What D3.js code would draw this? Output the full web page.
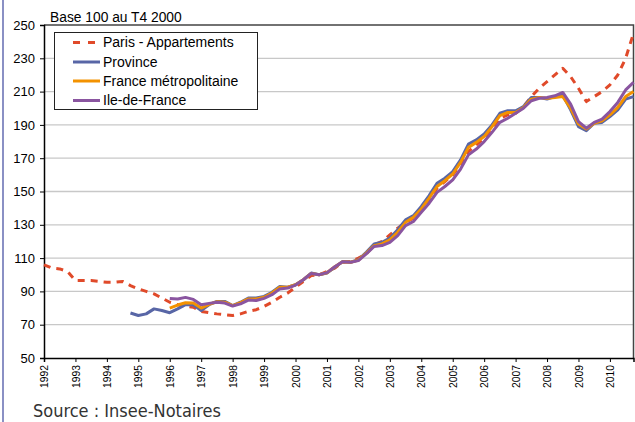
<!DOCTYPE html>
<html><head><meta charset="utf-8">
<script src="https://cdn.jsdelivr.net/npm/d3@7/dist/d3.min.js"></script>
<style>body{margin:0;background:#fff}svg{display:block}</style>
</head><body>
<svg id="c" width="635" height="422"></svg>
<script>
const yearLabels = ["1992","1993","1994","1995","1996","1997","1998","1999","2000","2001","2002","2003","2004","2005","2006","2007","2008","2009","2010"];
const yTicks = [50,70,90,110,130,150,170,190,210,230,250];
const seriesNames = ["Paris - Appartements","Province","France métropolitaine","Ile-de-France"];
const N = null;
const paris = [106,104,103.5,102,96.5,96.5,96.5,96,95.5,95.5,96,93.5,91.5,90,88.5,86,83.5,82,81,80.5,78,77.2,76.5,76,75.5,76.5,78,79,81,83.5,86.5,89,92.5,96,99.5,100,102,104,107.5,108,110,112.5,118,120,124,128,131.5,134,139,145,152,156,160,166,174,178,182,188,194,196,197,201,207,212,216,220,224,219,212,204,207,210,214,220,230,245];
const province = [N,N,N,N,N,N,N,N,N,N,N,77,75.5,76.5,79.5,78.5,77.2,79.5,82,82,78.5,82,84,84,81.5,83.5,86,86,87,89.5,93,92.5,94,97,101,100,101,104.5,108,107.5,109,113.5,118.5,119.5,122,127,133,135.5,141,147.5,155,158,162,169,178.5,181,184.5,190,197,198.5,198.5,201,206.5,206.5,205.5,207,208,199,189,186.5,191,191.5,195,199,205.5,207];
const france = [N,N,N,N,N,N,N,N,N,N,N,N,N,N,N,N,80,81.8,83.2,83,80,82.2,83.8,83.5,81.5,83.2,85.5,85.5,86.5,89,92.5,92.5,94,97,100.8,100,101.2,104.8,107.8,107.5,108.8,113,117.5,118.5,121,125.5,131.5,134.5,139.5,146,153,156.5,160.5,167.5,176.5,179.5,183,189,195.5,197.5,197.5,200.5,205.5,206.5,206,206.5,207,200,190.5,187.5,191,192.5,196,200.5,207,210];
const idf = [N,N,N,N,N,N,N,N,N,N,N,N,N,N,N,N,85.8,85.4,86.4,85.2,82,82.8,83.5,83,81.2,82.5,84.8,84.5,85.8,88,91.5,92,93.8,97,100.8,100,101.3,104.8,107.8,107.5,108.5,112.5,117,117.5,119.5,123.5,129.5,132,137.5,143,149.5,153,157,163.5,172,175.5,180,185.5,191.5,194,197,200,204.5,206,206.5,207.5,209.5,202.5,192,188,191.5,193.5,198,203.5,211,215.5];

const svg = d3.select("#c");
const L = 44, R = 633.5, T = 25, B = 358;
const x = d3.scaleLinear().domain([0, paris.length - 1]).range([L, R]);
const y = d3.scaleLinear().domain([50, 250]).range([B, T]);
const font = "'Liberation Sans', Arial, sans-serif";

// page frame line
svg.append("line").attr("x1",3).attr("x2",3).attr("y1",0).attr("y2",422).attr("stroke","#8a90c4").attr("stroke-width",2);

// gridlines
svg.append("g").selectAll("line").data(yTicks.filter(v => v > 50 && v < 250)).join("line")
  .attr("x1", L).attr("x2", R).attr("y1", d => y(d)).attr("y2", d => y(d))
  .attr("stroke", "#c8c8c8").attr("stroke-width", 1.3);

// top and right border
svg.append("path").attr("d", `M${L},${T}H${R}V${B}`).attr("fill","none").attr("stroke","#444").attr("stroke-width",1.5);

// y axis
const yAxis = svg.append("g").attr("transform", `translate(${L},0)`)
  .call(d3.axisLeft(y).tickValues(yTicks).tickSize(4).tickPadding(5).tickFormat(d3.format("d")));
yAxis.select(".domain").attr("stroke","#000").attr("stroke-width",1.5);
yAxis.selectAll("text").attr("font-family", font).attr("font-size", 13).attr("fill","#000");

// x axis
const xTickIdx = yearLabels.map((d,i) => i*4);
const xAxis = svg.append("g").attr("transform", `translate(0,${B})`)
  .call(d3.axisBottom(x).tickValues(xTickIdx).tickSize(4).tickFormat((d,i) => yearLabels[i]));
xAxis.select(".domain").attr("stroke","#000").attr("stroke-width",1.5);
xAxis.selectAll("text").attr("font-family", font).attr("font-size", 10.3).attr("fill","#000")
  .attr("transform","rotate(-90)").attr("text-anchor","end").attr("dy","0.35em").attr("x",-7).attr("y",0);

// lines
const styles = [
  {data: paris, color: "#e04a2a", dash: "7,6"},
  {data: province, color: "#5866a6", dash: null},
  {data: france, color: "#f39200", dash: null},
  {data: idf, color: "#8a55a0", dash: null}
];
const line = d3.line().defined(d => d != null).x((d,i) => x(i)).y(d => y(d));
styles.forEach(s => {
  svg.append("path").datum(s.data).attr("d", line).attr("fill","none")
    .attr("stroke", s.color).attr("stroke-width", 3).attr("stroke-linejoin","round")
    .attr("stroke-dasharray", s.dash);
});

// legend
svg.append("rect").attr("x",54.5).attr("y",32.5).attr("width",203).attr("height",77)
  .attr("fill","#fff").attr("stroke","#222").attr("stroke-width",1);
const rowY = [42.5, 62, 81, 100.5];
seriesNames.forEach((n,i) => {
  const st = styles[i];
  svg.append("line").attr("x1",73).attr("x2",100).attr("y1",rowY[i]).attr("y2",rowY[i])
    .attr("stroke", st.color).attr("stroke-width",3).attr("stroke-dasharray", st.dash ? "7,8" : null);
  svg.append("text").attr("x",103).attr("y",rowY[i]).attr("dy","0.35em")
    .attr("font-family", font).attr("font-size", 14).attr("fill","#000").text(n);
});

// title
svg.append("text").attr("x",50).attr("y",22).attr("font-family",font).attr("font-size",13.8).attr("fill","#000").text("Base 100 au T4 2000");

// source
svg.append("text").attr("x",33).attr("y",417).attr("font-family","'DejaVu Sans Condensed','Liberation Sans Narrow',sans-serif")
  .attr("font-size",18).attr("fill","#333").text("Source : Insee-Notaires");
</script>
</body></html>
